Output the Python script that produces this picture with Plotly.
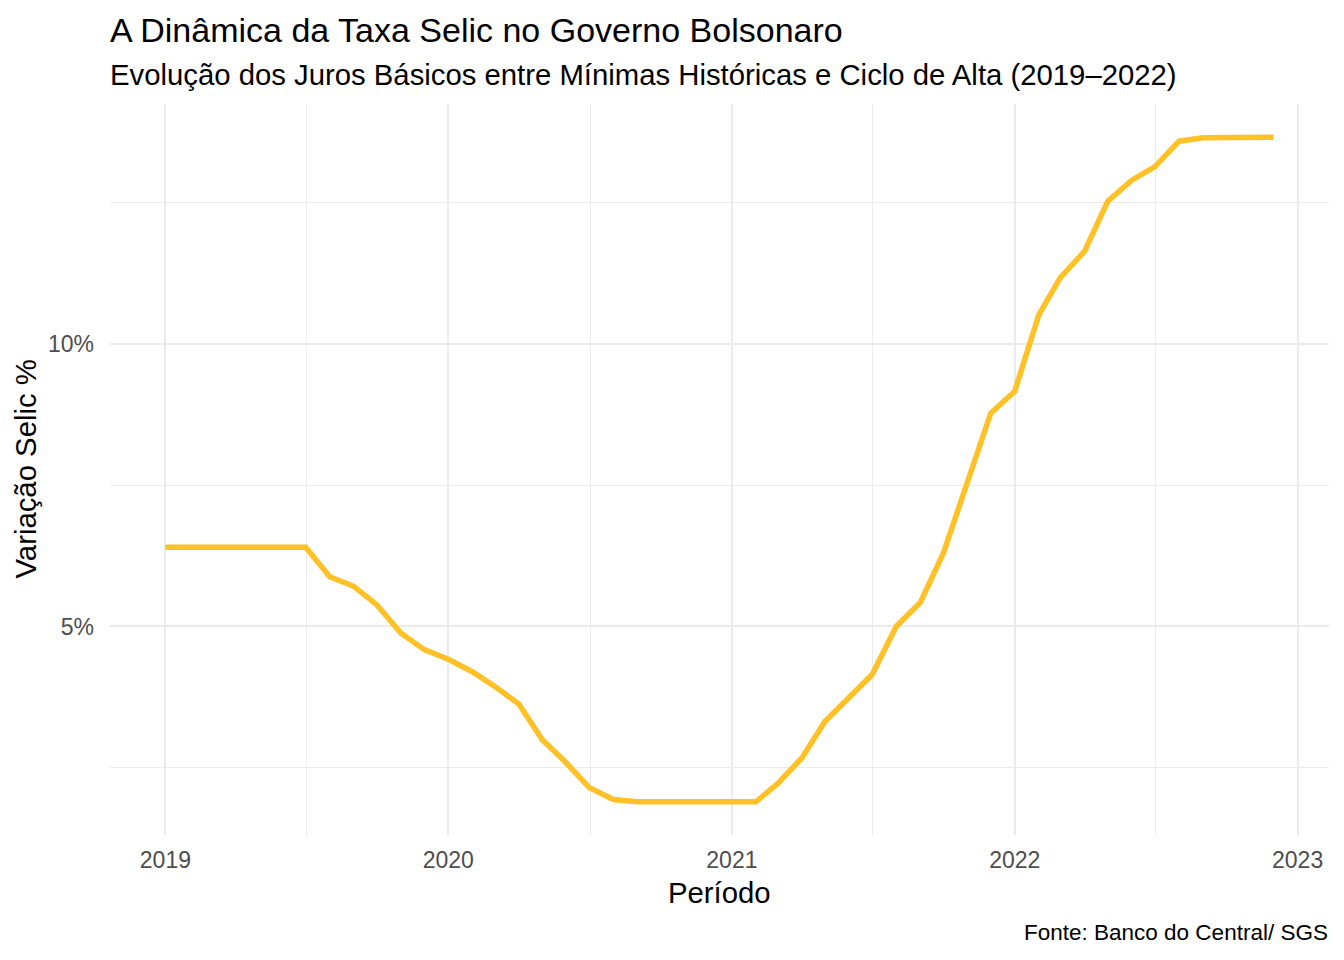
import plotly.graph_objects as go
import pandas as pd

# Selic mensal anualizada (%), jan/2019 a dez/2022
meses = pd.date_range("2019-01-01", periods=48, freq="MS")
selic = [
    6.40, 6.40, 6.40, 6.40, 6.40, 6.40, 6.40, 5.88, 5.71, 5.38, 4.88, 4.59,
    4.42, 4.20, 3.94, 3.63, 3.00, 2.59, 2.15, 1.94, 1.90, 1.90, 1.90, 1.90,
    1.90, 1.90, 2.22, 2.67, 3.32, 3.75, 4.15, 5.00, 5.42, 6.30, 7.59, 8.77,
    9.16, 10.51, 11.17, 11.63, 12.52, 12.89, 13.13, 13.58, 13.64, 13.65, 13.65, 13.65,
]

x_ticks = ["2019-01-01", "2020-01-01", "2021-01-01", "2022-01-01", "2023-01-01"]
x_labels = ["2019", "2020", "2021", "2022", "2023"]
x_minor = ["2019-07-02", "2020-07-02", "2021-07-02", "2022-07-02"]
y_ticks = [5, 10]
y_labels = ["5%", "10%"]
y_minor = [2.5, 7.5, 12.5]

FONT = "Arial, Liberation Sans, sans-serif"
OFF = 8  # page body margin
W, H = 1336, 952
L, R, T, B = 102, 15, 96, 125

# ggplot-like 5% expansion
span_x = meses[-1] - meses[0]
x_range = [meses[0] - span_x * 0.05, meses[-1] + span_x * 0.05]
span_y = max(selic) - min(selic)
y_range = [min(selic) - span_y * 0.05, max(selic) + span_y * 0.05]

fig = go.Figure()
fig.add_trace(go.Scatter(
    x=meses, y=selic, mode="lines",
    line=dict(color="#FFC125", width=5.5),
    hoverinfo="x+y",
))


def py(p):
    # screen pixel row -> paper y
    bottom = OFF + H - B
    return (bottom - p) / (H - T - B)


def px_x(p):
    return (p - OFF - L) / (W - L - R)


annots = [
    dict(text="A Dinâmica da Taxa Selic no Governo Bolsonaro", x=0, y=py(30),
         xanchor="left", yanchor="middle", xshift=-2, font=dict(size=34, color="black")),
    dict(text="Evolução dos Juros Básicos entre Mínimas Históricas e Ciclo de Alta (2019–2022)",
         x=0, y=py(75), xanchor="left", yanchor="middle", xshift=-2,
         font=dict(size=29.3, color="black")),
    dict(text="Período", x=0.5, y=py(892), xanchor="center", yanchor="middle",
         font=dict(size=29.3, color="black")),
    dict(text="Variação Selic %", x=px_x(25), y=0.5, xanchor="center", yanchor="middle",
         textangle=-90, font=dict(size=29.3, color="black")),
    dict(text="Fonte: Banco do Central/ SGS", x=1, y=py(932), xanchor="right", yanchor="middle",
         xshift=1, font=dict(size=22.5, color="black")),
]
for a in annots:
    a.update(xref="paper", yref="paper", showarrow=False)

fig.update_layout(
    width=W, height=H,
    margin=dict(l=L, r=R, t=T, b=B),
    paper_bgcolor="white", plot_bgcolor="white",
    font=dict(family=FONT),
    showlegend=False,
    annotations=annots,
    xaxis=dict(
        type="date", range=x_range,
        tickvals=x_ticks, ticktext=x_labels,
        tickfont=dict(size=23, color="#4D4D4D"),
        showgrid=True, gridcolor="#EBEBEB", gridwidth=2,
        minor=dict(tickvals=x_minor, showgrid=True, gridcolor="#EBEBEB", gridwidth=1),
        zeroline=False, showline=False, ticks="",
        ticklabelstandoff=9,
    ),
    yaxis=dict(
        range=y_range,
        tickvals=y_ticks, ticktext=y_labels,
        tickfont=dict(size=23, color="#4D4D4D"),
        showgrid=True, gridcolor="#EBEBEB", gridwidth=2,
        minor=dict(tickvals=y_minor, showgrid=True, gridcolor="#EBEBEB", gridwidth=1),
        zeroline=False, showline=False, ticks="",
        ticklabelstandoff=15,
    ),
)

fig.write_html("out.html")
